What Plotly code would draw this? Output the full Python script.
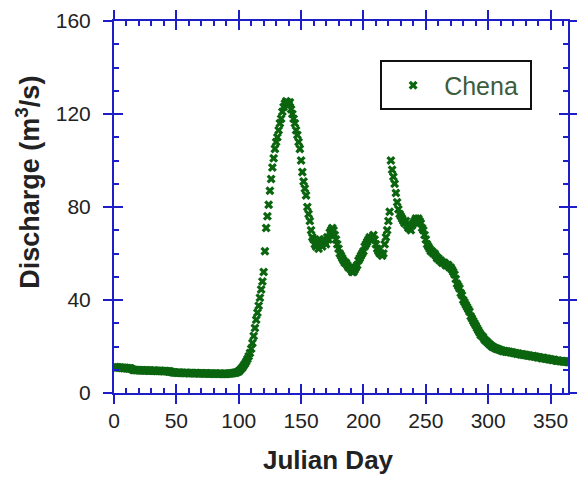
import plotly.graph_objects as go

# Daily discharge of the Chena River over one year
julian_day = list(range(1, 366))

discharge = [
    # days 1-12
    11.2, 11.0, 11.1, 10.9, 11.0, 10.8, 10.9, 10.7, 10.8, 10.6, 10.7, 10.5,
    # days 13-45
    10.6, 10.4, 10.0, 9.9, 9.9, 9.8, 9.9, 9.8, 9.8, 9.7, 9.8, 9.7, 9.7, 9.8, 9.7,
    9.6, 9.7, 9.6, 9.6, 9.7, 9.6, 9.5, 9.6, 9.5, 9.6, 9.5, 9.5, 9.4, 9.5, 9.4,
    9.4, 9.3, 9.2,
    # days 46-98
    9.0, 8.9, 8.8, 8.8, 8.7, 8.7, 8.8, 8.7, 8.6, 8.7, 8.6, 8.6, 8.7, 8.6, 8.5,
    8.6, 8.5, 8.6, 8.5, 8.5, 8.6, 8.5, 8.4, 8.5, 8.4, 8.5, 8.4, 8.4, 8.5, 8.4,
    8.3, 8.4, 8.3, 8.4, 8.3, 8.3, 8.4, 8.3, 8.3, 8.4, 8.3, 8.2, 8.3, 8.2, 8.3,
    8.3, 8.4, 8.4, 8.5, 8.5, 8.6, 8.7, 8.8,
    # days 99-112
    9.0, 9.3, 9.8, 10.4, 11.0, 11.8, 12.6, 13.5, 14.6, 15.8, 17.2, 19.0, 21.5, 24.5,
    # days 113-160 (spring breakup peak)
    28, 31.5, 34.5, 37.5, 41, 44.5, 48, 52, 61, 71, 76, 81, 87, 92, 97, 101,
    105, 108, 110, 113, 116, 118, 121, 123, 124.5, 125.5, 125, 124, 125, 122, 120, 118,
    116, 113, 111, 108, 105, 100, 95, 91, 88, 85, 80, 77, 74, 70, 67, 66,
    # days 161-220
    64, 63, 65, 62, 66, 64, 63, 66, 65, 64, 67, 66, 69, 70, 71, 70, 68, 66, 64, 62,
    60, 59, 58, 57, 56, 56, 55, 54, 54, 53, 52, 52, 53, 54, 55, 57, 58, 59, 60, 61,
    63, 64, 65, 66, 67, 66, 67, 68, 66, 64, 62, 61, 60, 60, 59, 60, 64, 67, 70, 74,
    # days 221-250
    78, 100, 96, 93, 90, 86, 82, 79, 77, 76, 75, 74, 73, 74, 72, 71, 71, 70, 72, 73,
    74, 75, 74, 75, 74, 73, 71, 70, 68, 66,
    # days 251-310
    64, 63, 62, 61, 61, 60, 60, 59, 58, 58, 57, 57, 56, 56, 56, 55, 55, 55, 54, 54,
    53, 52, 51, 49, 47, 46, 45, 43, 42, 40, 39, 38, 37, 36, 35, 33, 32, 31, 30, 29,
    28, 27, 26, 25, 24.5, 24, 23, 22.5, 22, 21.5, 21, 20.5, 20, 19.8, 19.5, 19.2, 19, 18.8, 18.6, 18.4,
    # days 311-365
    18.3, 18.0, 18.1, 17.8, 17.9, 17.6, 17.7, 17.4, 17.5, 17.3, 17.1, 17.2, 16.9, 17.0, 16.8,
    16.6, 16.7, 16.5, 16.3, 16.4, 16.2, 16.0, 16.1, 15.9, 15.8, 15.9, 15.6, 15.7, 15.5, 15.3,
    15.4, 15.2, 15.0, 15.1, 14.9, 14.7, 14.8, 14.6, 14.4, 14.5, 14.3, 14.2, 14.3, 14.0, 13.9,
    14.0, 13.8, 13.7, 13.8, 13.6, 13.5, 13.6, 13.4, 13.3, 13.2,
]

x_ticks = [0, 50, 100, 150, 200, 250, 300, 350]
y_ticks = [0, 40, 80, 120, 160]
series_name = "Chena"
x_title = "Julian Day"
y_title = "Discharge (m<sup>3</sup>/s)"

AXIS_BLUE = "#1e1ec8"
GREEN = "#0b650f"
FONT = "Liberation Sans, Arial, sans-serif"
X_RANGE = [0, 364]
Y_RANGE = [0, 160]

fig = go.Figure()
fig.add_trace(go.Scatter(
    x=julian_day, y=discharge, mode="markers",
    name=series_name + "\u00a0",  # trailing space widens the legend box
    marker=dict(symbol="x", size=8, color=GREEN, line=dict(width=0)),
))
# empty trace so the companion axes (outward half of the major ticks) get drawn
fig.add_trace(go.Scatter(x=[], y=[], xaxis="x2", yaxis="y2",
                         showlegend=False, hoverinfo="skip"))

tick_font = dict(family=FONT, size=21, color="#222222")
inner = dict(
    showline=True, linecolor=AXIS_BLUE, linewidth=2, mirror="allticks",
    ticks="inside", ticklen=9, tickwidth=2, tickcolor=AXIS_BLUE,
    showgrid=False, zeroline=False, tickfont=tick_font, automargin=False,
    minor=dict(ticks="inside", ticklen=5, tickwidth=1.5, tickcolor=AXIS_BLUE,
               dtick=10, tick0=0, showgrid=False),
)
outer = dict(
    showline=True, linecolor=AXIS_BLUE, linewidth=2, mirror="allticks",
    ticks="outside", ticklen=9, tickwidth=2, tickcolor=AXIS_BLUE,
    showgrid=False, zeroline=False, showticklabels=False, automargin=False,
)

fig.update_layout(
    width=577, height=477, autosize=False,
    margin=dict(l=114, r=9, t=21, b=84, autoexpand=False),
    paper_bgcolor="white", plot_bgcolor="white",
    font=dict(family=FONT),
    xaxis=dict(range=X_RANGE, tickvals=x_ticks, ticklabelstandoff=8, **inner),
    yaxis=dict(range=Y_RANGE, tickvals=y_ticks, ticklabelstandoff=17, **inner),
    xaxis2=dict(range=X_RANGE, tickvals=x_ticks, overlaying="x", anchor="y2", **outer),
    yaxis2=dict(range=Y_RANGE, tickvals=y_ticks, overlaying="y", anchor="x2", **outer),
    showlegend=True,
    legend=dict(
        x=0.921, y=0.894, xanchor="right", yanchor="top",
        bordercolor="#111111", borderwidth=2, bgcolor="white",
        font=dict(family=FONT, size=25, color="#3c5c3c"),
        itemwidth=52,
    ),
    annotations=[
        dict(text=x_title, xref="paper", yref="paper", x=0.4714, y=-0.181,
             xanchor="center", yanchor="middle", showarrow=False,
             font=dict(family=FONT, size=26, color="#222222", weight="bold")),
        dict(text=y_title, xref="paper", yref="paper", x=-0.1885, y=0.5664,
             xanchor="center", yanchor="middle", showarrow=False, textangle=-90,
             font=dict(family=FONT, size=27, color="#222222", weight="bold")),
    ],
)

fig.write_html("out.html")
